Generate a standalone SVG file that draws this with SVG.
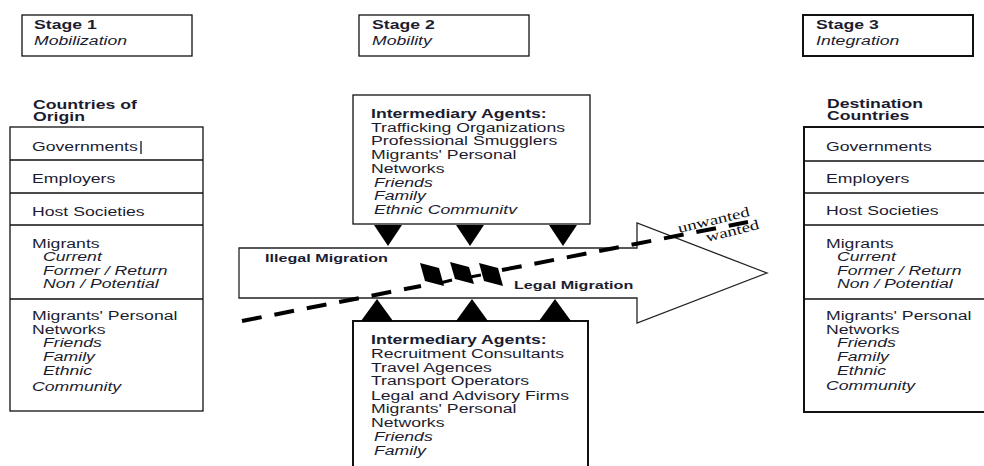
<svg xmlns="http://www.w3.org/2000/svg" width="984" height="466" viewBox="0 0 984 466">
<style>
text{font-family:"Liberation Sans",Arial,sans-serif;font-size:12px;fill:#1c1c30}
.b{font-weight:bold}
.i{font-style:italic}
.s{font-size:11px}
.serif{font-family:"Liberation Serif","Times New Roman",serif;font-size:14px;fill:#111}
.box{fill:#fff;stroke:#111;stroke-width:1.3}
.thick{stroke-width:2}
.div{stroke:#111;stroke-width:1.3;fill:none}
.tri{fill:#000}
</style>
<rect width="984" height="466" fill="#fff"/>

<g id="stage1">
<rect class="box" x="22" y="15" width="170" height="41"/>
<g transform="translate(34 0) scale(1.47 1)">
<text class="b" y="29">Stage 1</text>
<text class="i" y="45">Mobilization</text>
</g>
</g>
<g id="stage2">
<rect class="box" x="359" y="15" width="170" height="41"/>
<g transform="translate(372 0) scale(1.47 1)">
<text class="b" y="29">Stage 2</text>
<text class="i" y="45">Mobility</text>
</g>
</g>
<g id="stage3">
<rect class="box thick" x="803" y="15" width="170" height="41"/>
<g transform="translate(816 0) scale(1.47 1)">
<text class="b" y="29">Stage 3</text>
<text class="i" y="45">Integration</text>
</g>
</g>

<g id="origin">
<g transform="translate(33 0) scale(1.47 1)">
<text class="b" y="109">Countries of</text>
<text class="b" y="121">Origin</text>
</g>
<rect class="box" x="10" y="127" width="193" height="284"/>
<path class="div" d="M10 160H203M10 193H203M10 225H203M10 299H203"/>
<line x1="141" y1="141" x2="141" y2="154" stroke="#000" stroke-width="1.2"/>
<g transform="translate(32 0) scale(1.47 1)">
<text y="151">Governments</text>
<text y="183">Employers</text>
<text y="216">Host Societies</text>
<text y="248">Migrants</text>
<text class="i" x="7.5" y="261">Current</text>
<text class="i" x="7.5" y="275">Former / Return</text>
<text class="i" x="7.5" y="288">Non / Potential</text>
<text y="320">Migrants' Personal</text>
<text y="334">Networks</text>
<text class="i" x="7.5" y="347">Friends</text>
<text class="i" x="7.5" y="361">Family</text>
<text class="i" x="7.5" y="375">Ethnic</text>
<text class="i" y="391">Community</text>
</g>
</g>

<g id="destination">
<g transform="translate(827 0) scale(1.47 1)">
<text class="b" y="108">Destination</text>
<text class="b" y="120">Countries</text>
</g>
<rect class="box thick" x="804" y="127" width="190" height="285"/>
<path class="div thick" d="M804 161H990M804 193H990M804 225H990M804 299H990"/>
<g transform="translate(826 0) scale(1.47 1)">
<text y="151">Governments</text>
<text y="183">Employers</text>
<text y="215">Host Societies</text>
<text y="248">Migrants</text>
<text class="i" x="7.5" y="261">Current</text>
<text class="i" x="7.5" y="275">Former / Return</text>
<text class="i" x="7.5" y="288">Non / Potential</text>
<text y="320">Migrants' Personal</text>
<text y="334">Networks</text>
<text class="i" x="7.5" y="347">Friends</text>
<text class="i" x="7.5" y="361">Family</text>
<text class="i" x="7.5" y="375">Ethnic</text>
<text class="i" y="390">Community</text>
</g>
</g>

<g id="migration-arrow">
<polygon points="239,248 637,248 637,223 767,273 637,323 637,298 239,298" fill="#fff" stroke="#222" stroke-width="1.3"/>
<g transform="translate(265 0) scale(1.47 1)">
<text class="b s" y="262">Illegal Migration</text>
</g>
<g transform="translate(514 0) scale(1.47 1)">
<text class="b s" y="289">Legal Migration</text>
</g>
</g>

<g id="agents-illegal">
<rect class="box" x="353" y="95" width="237" height="129" stroke-width="1.5"/>
<g transform="translate(371 0) scale(1.47 1)">
<text class="b" y="118">Intermediary Agents:</text>
<text y="132">Trafficking Organizations</text>
<text y="145">Professional Smugglers</text>
<text y="159">Migrants' Personal</text>
<text y="173">Networks</text>
<text class="i" x="2" y="187">Friends</text>
<text class="i" x="2" y="200">Family</text>
<text class="i" x="2" y="214">Ethnic Communitv</text>
</g>
</g>

<g id="agents-legal">
<rect class="box thick" x="353" y="321" width="235" height="160"/>
<g transform="translate(371 0) scale(1.47 1)">
<text class="b" y="344">Intermediary Agents:</text>
<text y="358">Recruitment Consultants</text>
<text y="372">Travel Agences</text>
<text y="385">Transport Operators</text>
<text y="400">Legal and Advisory Firms</text>
<text y="413">Migrants' Personal</text>
<text y="427">Networks</text>
<text class="i" x="2" y="441">Friends</text>
<text class="i" x="2" y="455">Family</text>
</g>
</g>

<g id="connectors">
<polygon class="tri" points="374,225 402,225 388,246"/>
<polygon class="tri" points="456,225 484,225 470,246"/>
<polygon class="tri" points="549,225 577,225 563,246"/>
<polygon class="tri" points="361,321 393,321 377,299"/>
<polygon class="tri" points="456,321 488,321 472,299"/>
<polygon class="tri" points="539,321 571,321 555,299"/>
<line x1="242" y1="321" x2="421" y2="286" stroke="#000" stroke-width="4" stroke-dasharray="20 13"/>
<line x1="440" y1="283" x2="452" y2="280" stroke="#000" stroke-width="3"/>
<line x1="470" y1="277" x2="481" y2="275" stroke="#000" stroke-width="3"/>
<line x1="502" y1="270" x2="748" y2="222" stroke="#000" stroke-width="4" stroke-dasharray="20 13"/>
<polygon class="tri" points="420,263 439,268 444,286 425,281"/>
<polygon class="tri" points="450,262 469,267 474,284 455,279"/>
<polygon class="tri" points="479,263 498,268 503,286 484,281"/>
<text class="serif" transform="translate(679 233) rotate(-13.5) scale(1.35 1)">unwanted</text>
<text class="serif" transform="translate(707 242) rotate(-14) scale(1.35 1)">wanted</text>
</g>
</svg>
